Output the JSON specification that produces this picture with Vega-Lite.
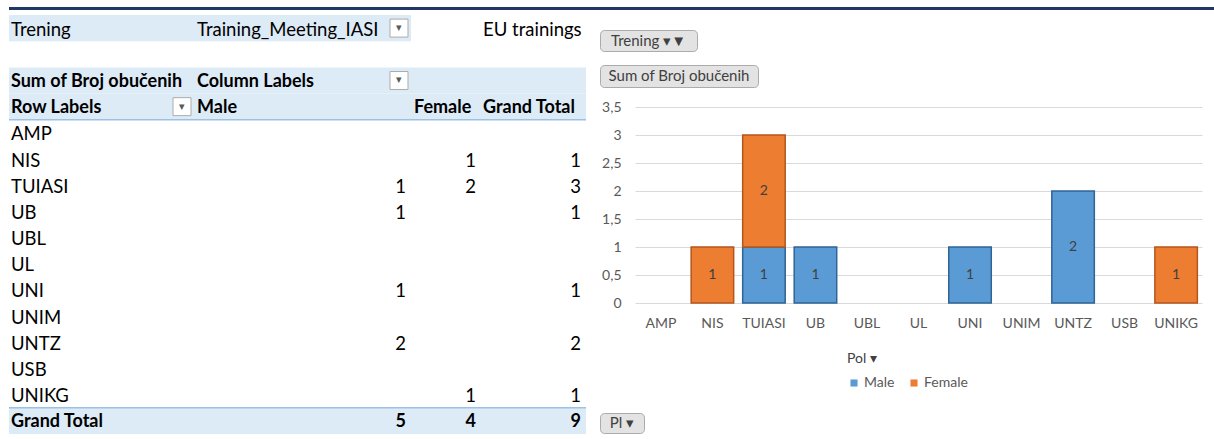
{
  "$schema": "https://vega.github.io/schema/vega-lite/v6.json",
  "background": "white",
  "padding": {"left": 8, "top": 7, "right": 0, "bottom": 0},
  "config": {
    "view": {"stroke": null},
    "font": "Lato",
    "locale": {"number": {"decimal": ",", "thousands": ".", "grouping": [3], "currency": ["", " €"]}}
  },
  "datasets": {
    "pivot": [
      {"org": "NIS", "Pol": "Female", "n": 1},
      {"org": "TUIASI", "Pol": "Male", "n": 1},
      {"org": "TUIASI", "Pol": "Female", "n": 2},
      {"org": "UB", "Pol": "Male", "n": 1},
      {"org": "UNI", "Pol": "Male", "n": 1},
      {"org": "UNTZ", "Pol": "Male", "n": 2},
      {"org": "UNIKG", "Pol": "Female", "n": 1}
    ],
    "cells": [
      {"row": "Trening", "col": "A", "text": "Trening"},
      {"row": "Trening", "col": "B", "text": "Training_Meeting_IASI"},
      {"row": "Trening", "col": "D", "text": "EU trainings"},
      {"row": "Sum", "col": "A", "text": "Sum of Broj obučenih"},
      {"row": "Sum", "col": "B", "text": "Column Labels"},
      {"row": "Row Labels", "col": "A", "text": "Row Labels"},
      {"row": "Row Labels", "col": "B", "text": "Male"},
      {"row": "Row Labels", "col": "C", "text": "Female"},
      {"row": "Row Labels", "col": "D", "text": "Grand Total"},
      {"row": "AMP", "col": "A", "text": "AMP"},
      {"row": "NIS", "col": "A", "text": "NIS"},
      {"row": "TUIASI", "col": "A", "text": "TUIASI"},
      {"row": "UB", "col": "A", "text": "UB"},
      {"row": "UBL", "col": "A", "text": "UBL"},
      {"row": "UL", "col": "A", "text": "UL"},
      {"row": "UNI", "col": "A", "text": "UNI"},
      {"row": "UNIM", "col": "A", "text": "UNIM"},
      {"row": "UNTZ", "col": "A", "text": "UNTZ"},
      {"row": "USB", "col": "A", "text": "USB"},
      {"row": "UNIKG", "col": "A", "text": "UNIKG"},
      {"row": "Grand Total", "col": "A", "text": "Grand Total"}
    ],
    "headerRows": [{"row": "Trening"}, {"row": "Sum"}, {"row": "Row Labels"}, {"row": "Grand Total"}],
    "icons": [
      {"row": "Trening", "col": "B", "glyph": "▾"},
      {"row": "Sum", "col": "B", "glyph": "▾"},
      {"row": "Row Labels", "col": "A", "glyph": "▾"}
    ]
  },
  "spacing": 5,
  "bounds": "flush",
  "resolve": {"scale": {"color": "independent", "stroke": "independent"}, "legend": {"color": "independent", "stroke": "independent"}},
  "vconcat": [
    {
      "width": 1206, "height": 3,
      "view": {"fill": "#203864", "stroke": null},
      "data": {"values": [{"t": ""}]},
      "mark": {"type": "text", "text": "", "fontSize": 0},
      "encoding": {}
    },
    {
      "spacing": 12,
      "resolve": {"scale": {"color": "independent", "stroke": "independent"}, "legend": {"color": "independent", "stroke": "independent"}},
      "hconcat": [
        {
          "spacing": 0,
          "bounds": "flush",
          "hconcat": [
            {
              "width": 185, "height": 419,
              "data": {"name": "cells"},
              "layer": [
                {"data": {"name": "headerRows"}, "mark": {"type": "rect", "color": "#DDEBF7"},
                 "encoding": {"y": {"field": "row", "type": "nominal", "axis": null, "scale": {"domain": ["Trening","blank","Sum","Row Labels","AMP","NIS","TUIASI","UB","UBL","UL","UNI","UNIM","UNTZ","USB","UNIKG","Grand Total"], "paddingInner": 0, "paddingOuter": 0}}}},
                {"data": {"values": [{"row": "Row Labels"}]}, "mark": {"type": "rule", "color": "#9BC2E6", "strokeWidth": 1.5},
                 "encoding": {"y": {"field": "row", "type": "nominal", "axis": null, "bandPosition": 1}}},
                {"data": {"values": [{"row": "Grand Total"}]}, "mark": {"type": "rule", "color": "#9BC2E6", "strokeWidth": 1.5},
                 "encoding": {"y": {"field": "row", "type": "nominal", "axis": null, "bandPosition": 0}}},
                {"transform": [{"filter": "datum.col == 'A' && !(datum.row == 'Sum' || datum.row == 'Row Labels' || datum.row == 'Grand Total')"}],
                 "mark": {"type": "text", "align": "left", "baseline": "middle", "dx": 2, "dy": 1.5, "font": "Lato", "fontSize": 18.5, "color": "#000000"},
                 "encoding": {"x": {"datum": "left", "type": "nominal", "axis": null, "scale": {"type": "point", "domain": ["left", "right"], "padding": 0}},
                              "y": {"field": "row", "type": "nominal", "axis": null}, "text": {"field": "text", "type": "nominal"}}},
                {"transform": [{"filter": "datum.col == 'A' && (datum.row == 'Sum' || datum.row == 'Row Labels' || datum.row == 'Grand Total')"}],
                 "mark": {"type": "text", "align": "left", "baseline": "middle", "dx": 2, "dy": 1.5, "font": "Lato", "fontSize": 18, "fontWeight": "bold", "color": "#000000"},
                 "encoding": {"x": {"datum": "left", "type": "nominal", "axis": null},
                              "y": {"field": "row", "type": "nominal", "axis": null}, "text": {"field": "text", "type": "nominal"}}},
                {"data": {"name": "icons"}, "transform": [{"filter": "datum.col == 'A'"}],
                 "mark": {"type": "point", "shape": "square", "size": 324, "filled": true, "fill": "#FFFFFF", "stroke": "#ABABAB", "strokeWidth": 1, "opacity": 1, "xOffset": -12},
                 "encoding": {"x": {"datum": "right", "type": "nominal", "axis": null}, "y": {"field": "row", "type": "nominal", "axis": null}}},
                {"data": {"name": "icons"}, "transform": [{"filter": "datum.col == 'A'"}],
                 "mark": {"type": "text", "xOffset": -12, "baseline": "middle", "fontSize": 11, "color": "#595959"},
                 "encoding": {"x": {"datum": "right", "type": "nominal", "axis": null}, "y": {"field": "row", "type": "nominal", "axis": null}, "text": {"field": "glyph", "type": "nominal"}}}
              ]
            },
            {
              "width": 217, "height": 419,
              "data": {"name": "cells"},
              "layer": [
                {"data": {"name": "headerRows"}, "mark": {"type": "rect", "color": "#DDEBF7"},
                 "encoding": {"y": {"field": "row", "type": "nominal", "axis": null, "scale": {"domain": ["Trening","blank","Sum","Row Labels","AMP","NIS","TUIASI","UB","UBL","UL","UNI","UNIM","UNTZ","USB","UNIKG","Grand Total"], "paddingInner": 0, "paddingOuter": 0}}}},
                {"data": {"values": [{"row": "Row Labels"}]}, "mark": {"type": "rule", "color": "#9BC2E6", "strokeWidth": 1.5},
                 "encoding": {"y": {"field": "row", "type": "nominal", "axis": null, "bandPosition": 1}}},
                {"data": {"values": [{"row": "Grand Total"}]}, "mark": {"type": "rule", "color": "#9BC2E6", "strokeWidth": 1.5},
                 "encoding": {"y": {"field": "row", "type": "nominal", "axis": null, "bandPosition": 0}}},
                {"transform": [{"filter": "datum.col == 'B' && !(datum.row == 'Sum' || datum.row == 'Row Labels' || datum.row == 'Grand Total')"}],
                 "mark": {"type": "text", "align": "left", "baseline": "middle", "dx": 3, "dy": 1.5, "font": "Lato", "fontSize": 18.5, "color": "#000000"},
                 "encoding": {"x": {"datum": "left", "type": "nominal", "axis": null, "scale": {"type": "point", "domain": ["left", "right"], "padding": 0}},
                              "y": {"field": "row", "type": "nominal", "axis": null}, "text": {"field": "text", "type": "nominal"}}},
                {"transform": [{"filter": "datum.col == 'B' && (datum.row == 'Sum' || datum.row == 'Row Labels' || datum.row == 'Grand Total')"}],
                 "mark": {"type": "text", "align": "left", "baseline": "middle", "dx": 3, "dy": 1.5, "font": "Lato", "fontSize": 18, "fontWeight": "bold", "color": "#000000"},
                 "encoding": {"x": {"datum": "left", "type": "nominal", "axis": null},
                              "y": {"field": "row", "type": "nominal", "axis": null}, "text": {"field": "text", "type": "nominal"}}},
                {"data": {"name": "icons"}, "transform": [{"filter": "datum.col == 'B'"}],
                 "mark": {"type": "point", "shape": "square", "size": 324, "filled": true, "fill": "#FFFFFF", "stroke": "#ABABAB", "strokeWidth": 1, "opacity": 1, "xOffset": -12},
                 "encoding": {"x": {"datum": "right", "type": "nominal", "axis": null}, "y": {"field": "row", "type": "nominal", "axis": null}}},
                {"data": {"name": "icons"}, "transform": [{"filter": "datum.col == 'B'"}],
                 "mark": {"type": "text", "xOffset": -12, "baseline": "middle", "fontSize": 11, "color": "#595959"},
                 "encoding": {"x": {"datum": "right", "type": "nominal", "axis": null}, "y": {"field": "row", "type": "nominal", "axis": null}, "text": {"field": "glyph", "type": "nominal"}}},
                {"data": {"name": "pivot"}, "transform": [{"filter": "datum.Pol == 'Male'"}],
                 "mark": {"type": "text", "align": "right", "baseline": "middle", "dx": -5, "dy": 1.5, "font": "Lato", "fontSize": 18.5, "color": "#000000"},
                 "encoding": {"x": {"datum": "right", "type": "nominal", "axis": null}, "y": {"field": "org", "type": "nominal", "axis": null}, "text": {"field": "n", "type": "quantitative"}}},
                {"data": {"name": "pivot"}, "transform": [{"filter": "datum.Pol == 'Male'"}, {"aggregate": [{"op": "sum", "field": "n", "as": "total"}]}],
                 "mark": {"type": "text", "align": "right", "baseline": "middle", "dx": -5, "dy": 1.5, "font": "Lato", "fontSize": 18, "fontWeight": "bold", "color": "#000000"},
                 "encoding": {"x": {"datum": "right", "type": "nominal", "axis": null}, "y": {"datum": "Grand Total", "type": "nominal", "axis": null}, "text": {"field": "total", "type": "quantitative"}}}
              ]
            },
            {
              "width": 68, "height": 419,
              "data": {"name": "cells"},
              "layer": [
                {"data": {"name": "headerRows"}, "transform": [{"filter": "datum.row != 'Trening'"}], "mark": {"type": "rect", "color": "#DDEBF7"},
                 "encoding": {"y": {"field": "row", "type": "nominal", "axis": null, "scale": {"domain": ["Trening","blank","Sum","Row Labels","AMP","NIS","TUIASI","UB","UBL","UL","UNI","UNIM","UNTZ","USB","UNIKG","Grand Total"], "paddingInner": 0, "paddingOuter": 0}}}},
                {"data": {"values": [{"row": "Row Labels"}]}, "mark": {"type": "rule", "color": "#9BC2E6", "strokeWidth": 1.5},
                 "encoding": {"y": {"field": "row", "type": "nominal", "axis": null, "bandPosition": 1}}},
                {"data": {"values": [{"row": "Grand Total"}]}, "mark": {"type": "rule", "color": "#9BC2E6", "strokeWidth": 1.5},
                 "encoding": {"y": {"field": "row", "type": "nominal", "axis": null, "bandPosition": 0}}},
                {"transform": [{"filter": "datum.col == 'C'"}],
                 "mark": {"type": "text", "align": "left", "baseline": "middle", "dx": 3, "dy": 1.5, "font": "Lato", "fontSize": 18, "fontWeight": "bold", "color": "#000000"},
                 "encoding": {"x": {"datum": "left", "type": "nominal", "axis": null, "scale": {"type": "point", "domain": ["left", "right"], "padding": 0}},
                              "y": {"field": "row", "type": "nominal", "axis": null}, "text": {"field": "text", "type": "nominal"}}},
                {"data": {"name": "pivot"}, "transform": [{"filter": "datum.Pol == 'Female'"}],
                 "mark": {"type": "text", "align": "right", "baseline": "middle", "dx": -3, "dy": 1.5, "font": "Lato", "fontSize": 18.5, "color": "#000000"},
                 "encoding": {"x": {"datum": "right", "type": "nominal", "axis": null}, "y": {"field": "org", "type": "nominal", "axis": null}, "text": {"field": "n", "type": "quantitative"}}},
                {"data": {"name": "pivot"}, "transform": [{"filter": "datum.Pol == 'Female'"}, {"aggregate": [{"op": "sum", "field": "n", "as": "total"}]}],
                 "mark": {"type": "text", "align": "right", "baseline": "middle", "dx": -3, "dy": 1.5, "font": "Lato", "fontSize": 18, "fontWeight": "bold", "color": "#000000"},
                 "encoding": {"x": {"datum": "right", "type": "nominal", "axis": null}, "y": {"datum": "Grand Total", "type": "nominal", "axis": null}, "text": {"field": "total", "type": "quantitative"}}}
              ]
            },
            {
              "width": 107, "height": 419,
              "data": {"name": "cells"},
              "layer": [
                {"data": {"name": "headerRows"}, "transform": [{"filter": "datum.row != 'Trening'"}], "mark": {"type": "rect", "color": "#DDEBF7"},
                 "encoding": {"y": {"field": "row", "type": "nominal", "axis": null, "scale": {"domain": ["Trening","blank","Sum","Row Labels","AMP","NIS","TUIASI","UB","UBL","UL","UNI","UNIM","UNTZ","USB","UNIKG","Grand Total"], "paddingInner": 0, "paddingOuter": 0}}}},
                {"data": {"values": [{"row": "Row Labels"}]}, "mark": {"type": "rule", "color": "#9BC2E6", "strokeWidth": 1.5},
                 "encoding": {"y": {"field": "row", "type": "nominal", "axis": null, "bandPosition": 1}}},
                {"data": {"values": [{"row": "Grand Total"}]}, "mark": {"type": "rule", "color": "#9BC2E6", "strokeWidth": 1.5},
                 "encoding": {"y": {"field": "row", "type": "nominal", "axis": null, "bandPosition": 0}}},
                {"transform": [{"filter": "datum.col == 'D' && !(datum.row == 'Sum' || datum.row == 'Row Labels' || datum.row == 'Grand Total')"}],
                 "mark": {"type": "text", "align": "left", "baseline": "middle", "dx": 4, "dy": 1.5, "font": "Lato", "fontSize": 18.5, "color": "#000000"},
                 "encoding": {"x": {"datum": "left", "type": "nominal", "axis": null, "scale": {"type": "point", "domain": ["left", "right"], "padding": 0}},
                              "y": {"field": "row", "type": "nominal", "axis": null}, "text": {"field": "text", "type": "nominal"}}},
                {"transform": [{"filter": "datum.col == 'D' && (datum.row == 'Sum' || datum.row == 'Row Labels' || datum.row == 'Grand Total')"}],
                 "mark": {"type": "text", "align": "left", "baseline": "middle", "dx": 4, "dy": 1.5, "font": "Lato", "fontSize": 18, "fontWeight": "bold", "color": "#000000"},
                 "encoding": {"x": {"datum": "left", "type": "nominal", "axis": null},
                              "y": {"field": "row", "type": "nominal", "axis": null}, "text": {"field": "text", "type": "nominal"}}},
                {"data": {"name": "pivot"}, "transform": [{"aggregate": [{"op": "sum", "field": "n", "as": "total"}], "groupby": ["org"]}],
                 "mark": {"type": "text", "align": "right", "baseline": "middle", "dx": -5, "dy": 1.5, "font": "Lato", "fontSize": 18.5, "color": "#000000"},
                 "encoding": {"x": {"datum": "right", "type": "nominal", "axis": null}, "y": {"field": "org", "type": "nominal", "axis": null}, "text": {"field": "total", "type": "quantitative"}}},
                {"data": {"name": "pivot"}, "transform": [{"aggregate": [{"op": "sum", "field": "n", "as": "total"}]}],
                 "mark": {"type": "text", "align": "right", "baseline": "middle", "dx": -5, "dy": 1.5, "font": "Lato", "fontSize": 18, "fontWeight": "bold", "color": "#000000"},
                 "encoding": {"x": {"datum": "right", "type": "nominal", "axis": null}, "y": {"datum": "Grand Total", "type": "nominal", "axis": null}, "text": {"field": "total", "type": "quantitative"}}}
              ]
            }
          ]
        },
        {
          "columns": 1,
          "spacing": 12,
          "resolve": {"scale": {"color": "independent", "stroke": "independent"}, "legend": {"color": "independent", "stroke": "independent"}},
          "concat": [
            {
              "width": 60, "height": 2,
              "view": {"fill": "#FFFFFF", "stroke": null},
              "data": {"values": [{"t": ""}]},
              "mark": {"type": "text", "text": "", "fontSize": 0},
              "encoding": {}
            },
            {
              "width": 97, "height": 21,
              "view": {"fill": "#E3E3E3", "stroke": "#ABABAB", "cornerRadius": 4},
              "data": {"values": [{"label": "Trening  ▾▼"}]},
              "mark": {"type": "text", "font": "Lato", "fontSize": 15, "color": "#404040", "baseline": "middle"},
              "encoding": {"text": {"field": "label", "type": "nominal"}}
            },
            {
              "width": 158, "height": 22,
              "view": {"fill": "#E3E3E3", "stroke": "#ABABAB", "cornerRadius": 4},
              "data": {"values": [{"label": "Sum of Broj obučenih"}]},
              "mark": {"type": "text", "font": "Lato", "fontSize": 15, "color": "#404040", "baseline": "middle"},
              "encoding": {"text": {"field": "label", "type": "nominal"}}
            },
            {
              "width": 602, "height": 196,
              "data": {"name": "pivot"},
              "layer": [
                {
                  "mark": {"type": "bar", "strokeWidth": 1.5},
                  "encoding": {
                    "x": {"field": "org", "type": "nominal",
                          "scale": {"domain": ["AMP","NIS","TUIASI","UB","UBL","UL","UNI","UNIM","UNTZ","USB","UNIKG"], "range": [35, 602], "paddingInner": 0.175, "paddingOuter": 0.09},
                          "axis": {"title": null, "labelAngle": 0, "domain": false, "ticks": false, "labelColor": "#595959", "labelFont": "Lato", "labelFontSize": 14, "labelPadding": 13}},
                    "y": {"field": "n", "type": "quantitative", "stack": "zero",
                          "scale": {"domain": [0, 3.5], "nice": false},
                          "axis": {"title": null, "offset": -35, "values": [0, 0.5, 1, 1.5, 2, 2.5, 3, 3.5], "format": ".1~f", "domain": false, "ticks": false, "gridColor": "#D9D9D9", "labelColor": "#595959", "labelFont": "Lato", "labelFontSize": 14, "labelPadding": 14}},
                    "color": {"field": "Pol", "type": "nominal",
                              "scale": {"domain": ["Male", "Female"], "range": ["#5B9BD5", "#ED7D31"]},
                              "legend": {"title": "Pol ▾", "orient": "none", "legendX": 237, "legendY": 235, "direction": "horizontal", "padding": 10,
                                         "symbolType": "square", "symbolSize": 50, "symbolStrokeWidth": 0,
                                         "labelFont": "Lato", "labelFontSize": 14, "labelColor": "#595959", "labelOffset": 3,
                                         "titleFont": "Lato", "titleFontSize": 14, "titleFontWeight": "normal", "titleColor": "#404040", "titlePadding": 10, "columnPadding": 12}},
                    "stroke": {"field": "Pol", "type": "nominal", "scale": {"domain": ["Male", "Female"], "range": ["#2E6496", "#B4561C"]}, "legend": null},
                    "order": {"field": "Pol", "sort": "descending"}
                  }
                },
                {
                  "mark": {"type": "text", "font": "Lato", "fontSize": 14, "color": "#404040", "baseline": "middle"},
                  "encoding": {
                    "x": {"field": "org", "type": "nominal"},
                    "y": {"field": "n", "type": "quantitative", "stack": "zero", "bandPosition": 0.5,
                          "axis": {"title": null, "offset": -35, "values": [0, 0.5, 1, 1.5, 2, 2.5, 3, 3.5], "format": ".1~f", "domain": false, "ticks": false, "gridColor": "#D9D9D9", "labelColor": "#595959", "labelFont": "Lato", "labelFontSize": 14, "labelPadding": 14}},
                    "detail": {"field": "Pol", "type": "nominal"},
                    "order": {"field": "Pol", "sort": "descending"},
                    "text": {"field": "n", "type": "quantitative"}
                  }
                }
              ]
            },
            {
              "width": 44, "height": 20,
              "view": {"fill": "#E3E3E3", "stroke": "#ABABAB", "cornerRadius": 4},
              "data": {"values": [{"label": "Pl ▾"}]},
              "mark": {"type": "text", "font": "Lato", "fontSize": 15, "color": "#404040", "baseline": "middle"},
              "encoding": {"text": {"field": "label", "type": "nominal"}}
            }
          ]
        }
      ]
    }
  ]
}
